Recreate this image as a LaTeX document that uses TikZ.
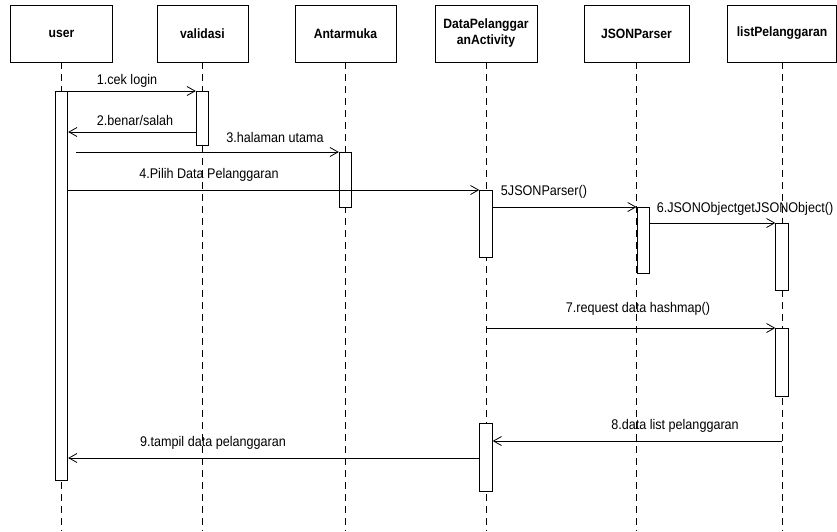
\documentclass[tikz,border=0pt]{standalone}
\usepackage{fontspec}
\setmainfont{Liberation Sans}[FakeStretch=0.9]
\usetikzlibrary{arrows.meta}
\begin{document}
\begin{tikzpicture}[x=1pt,y=-1pt,>={Straight Barb[length=8pt,width=9pt]},
	kepala/.style={draw,line width=0.8pt,minimum height=57pt,inner sep=0pt,align=center,font=\fontsize{13.5}{16}\selectfont\bfseries},
	aktif/.style={draw,line width=0.9pt,fill=white,minimum width=12.5pt,inner sep=0pt,anchor=north},
	garis/.style={line width=0.6pt,dash pattern=on 7pt off 5pt},
	pesan/.style={->,line width=0.8pt},
	teks/.style={inner sep=0pt,font=\fontsize{14}{16}\selectfont}]
\useasboundingbox (0,0) rectangle (837,531);
\foreach \n/\x/\w/\t in {user/61.5/102/user,val/202.5/91/validasi,ant/345.5/101/Antarmuka,dpa/486/102/{DataPelanggar\\anActivity},json/636.5/105/JSONParser,list/782/109/listPelanggaran}{
	\node[kepala,minimum width=\w pt] (\n) at (\x,33.5) {\t};
	\draw[garis] (\n.south) -- (\n.south |- 0,531);
}
\node[aktif,minimum height=389pt] (ua) at (user.south |- 0,91) {};
\node[aktif,minimum height=54pt] (va) at (val.south |- 0,91) {};
\node[aktif,minimum height=55pt] (aa) at (ant.south |- 0,152) {};
\node[aktif,minimum height=67pt] (da1) at (dpa.south |- 0,190) {};
\node[aktif,minimum height=66pt,anchor=north west] (ja) at (json.south |- 0,207) {};
\node[aktif,minimum height=67pt] (la1) at (list.south |- 0,223) {};
\node[aktif,minimum height=68pt] (la2) at (list.south |- 0,328) {};
\node[aktif,minimum height=68pt] (da2) at (dpa.south |- 0,423) {};
\draw[pesan] (ua.north) -- (va.north west);
\draw[pesan] (va.west |- 0,132) -- (ua.east |- 0,132);
\draw[pesan] ([xshift=8pt]ua.east |- aa.north) -- (aa.north west);
\draw[pesan] (ua.east |- da1.north) -- (da1.north west);
\draw[pesan] (da1.east |- ja.north) -- (ja.north west);
\draw[pesan] (ja.east |- la1.north) -- (la1.north west);
\draw[pesan] (dpa.south |- la2.north) -- (la2.north west);
\draw[pesan] (list.south |- 0,441) -- (da2.east |- 0,441);
\draw[pesan] (da2.west |- 0,458) -- (ua.east |- 0,458);
\node[teks] (m1) at (127,81) {1.cek login};
\node[teks] (m2) at (135,120) {2.benar/salah};
\node[teks] (m3) at (275,137) {3.halaman utama};
\node[teks] (m4) at (209,175) {4.Pilih Data Pelanggaran};
\node[teks] (m5) at (544,192) {5JSONParser()};
\node[teks] (m6) at (745,209) {6.JSONObjectgetJSONObject()};
\node[teks] (m7) at (638,309) {7.request data hashmap()};
\node[teks] (m8) at (675,426) {8.data list pelanggaran};
\node[teks] (m9) at (213,443) {9.tampil data pelanggaran};
\end{tikzpicture}
\end{document}
